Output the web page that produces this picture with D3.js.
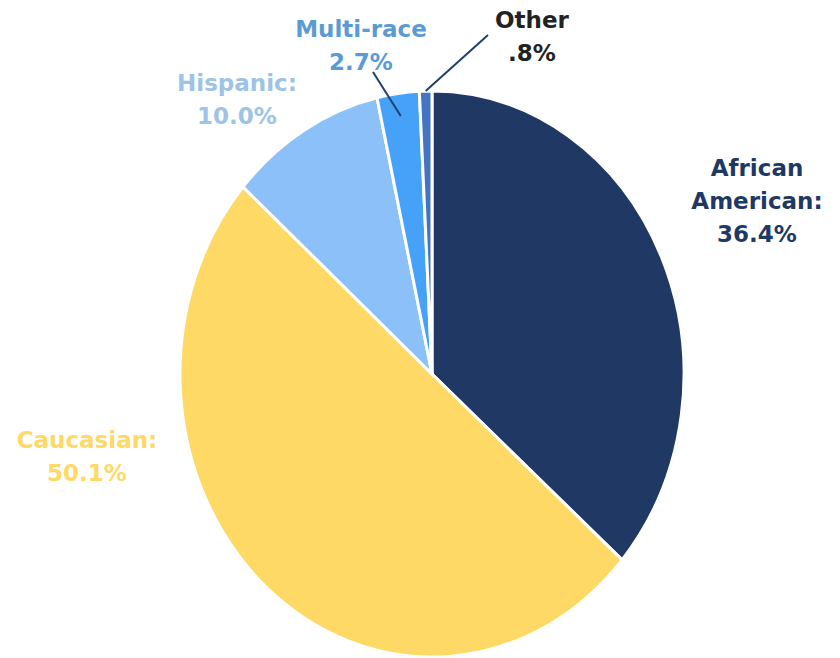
<!DOCTYPE html>
<html>
<head>
<meta charset="utf-8">
<script src="https://cdn.jsdelivr.net/npm/d3@7"></script>
<style>
  html, body { margin: 0; padding: 0; background: #fff; }
  svg { display: block; }
</style>
</head>
<body>
<svg id="chart"></svg>
<script>
// data
const categories = ["African American", "Caucasian", "Hispanic", "Multi-race", "Other"];
const shares = [36.4, 50.1, 10.0, 2.7, 0.8];
const labelLines = [
    ["African", "American:", "36.4%"],
    ["Caucasian:", "50.1%"],
    ["Hispanic:", "10.0%"],
    ["Multi-race", "2.7%"],
    ["Other", ".8%"]
];

// styles / layout
const sliceColors = ["#203864", "#FFD966", "#8CC0F8", "#45A2F8", "#4472C4"];
const textColors = ["#203864", "#FFD966", "#9DC3E6", "#5B9BD5", "#222222"];
const labelAt = [[757, 168], [87, 440], [237, 83], [361, 29], [532, 20]];
const leaderFrom = [null, null, null, [373, 72], [488, 35]];
const leaderDepth = [0, 0, 0, 0.92, 1.0];

const width = 840, height = 658;
const cx = 432, cy = 374, rx = 252, ry = 283;

const svg = d3.select("#chart")
    .attr("width", width)
    .attr("height", height);

const data = categories.map((c, i) => ({ name: c, value: shares[i], i: i }));

const pie = d3.pie().sort(null).value(d => d.value);
const arcs = pie(data);

const arc = d3.arc().innerRadius(0).outerRadius(ry);

const g = svg.append("g")
    .attr("transform", `translate(${cx},${cy}) scale(${rx / ry},1)`);

g.selectAll("path")
    .data(arcs)
    .enter().append("path")
    .attr("d", arc)
    .attr("fill", d => sliceColors[d.data.i])
    .attr("stroke", "#fff")
    .attr("stroke-width", 3)
    .attr("stroke-linejoin", "round")
    .attr("vector-effect", "non-scaling-stroke");

// leader lines
arcs.forEach(a => {
    const i = a.data.i;
    if (!leaderFrom[i]) return;
    const mid = (a.startAngle + a.endAngle) / 2;
    const x2 = cx + Math.sin(mid) * rx * leaderDepth[i];
    const y2 = cy - Math.cos(mid) * ry * leaderDepth[i];
    svg.append("line")
        .attr("x1", leaderFrom[i][0])
        .attr("y1", leaderFrom[i][1])
        .attr("x2", x2)
        .attr("y2", y2)
        .attr("stroke", "#1F3F6E")
        .attr("stroke-width", 2);
});

// labels
data.forEach(d => {
    const t = svg.append("text")
        .attr("x", labelAt[d.i][0])
        .attr("y", labelAt[d.i][1])
        .attr("text-anchor", "middle")
        .attr("fill", textColors[d.i])
        .style("font-family", "'DejaVu Sans', sans-serif")
        .style("font-weight", "bold")
        .style("font-size", "23px");
    labelLines[d.i].forEach((line, k) => {
        t.append("tspan")
            .attr("x", labelAt[d.i][0])
            .attr("y", labelAt[d.i][1] + k * 33)
            .attr("dy", "0.35em")
            .text(line);
    });
});
</script>
</body>
</html>
